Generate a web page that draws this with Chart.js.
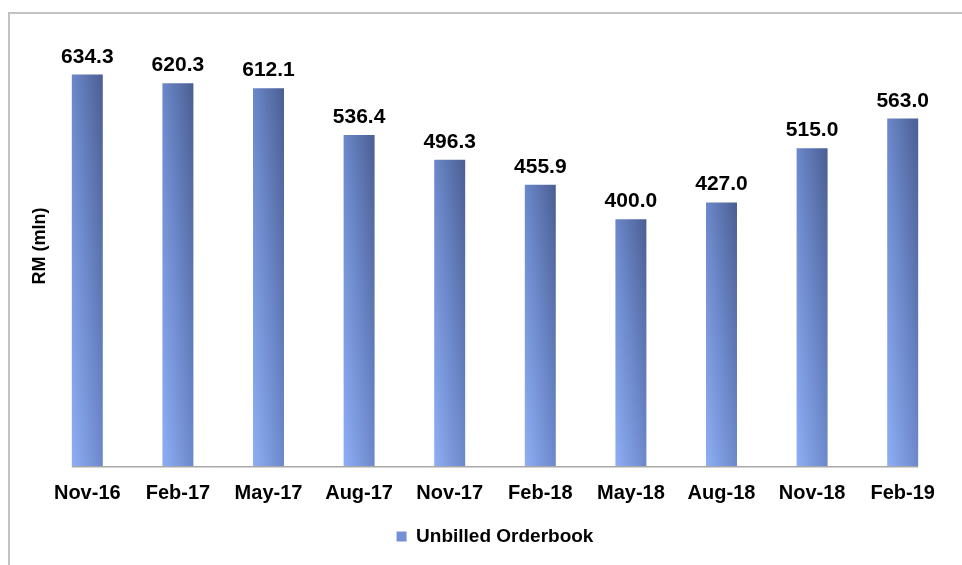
<!DOCTYPE html>
<html>
<head>
<meta charset="utf-8">
<script src="https://cdn.jsdelivr.net/npm/chart.js@4.4.0/dist/chart.umd.min.js"></script>
<style>
  html, body { margin: 0; padding: 0; background: #fff; }
  #wrap { position: relative; width: 962px; height: 565px; overflow: hidden; }
  #frame { position: absolute; left: 8px; top: 12px; width: 1000px; height: 600px;
           border-left: 2px solid #c3c3c3; border-top: 2px solid #c3c3c3; }
  canvas { position: absolute; left: 0; top: 0; }
</style>
</head>
<body>
<div id="wrap">
  <div id="frame"></div>
  <canvas id="myChart" width="962" height="565"></canvas>
</div>
<script>
const quarters = ["Nov-16", "Feb-17", "May-17", "Aug-17", "Nov-17", "Feb-18", "May-18", "Aug-18", "Nov-18", "Feb-19"];
const orderbook = [634.3, 620.3, 612.1, 536.4, 496.3, 455.9, 400.0, 427.0, 515.0, 563.0];
const seriesName = "Unbilled Orderbook";
const yMax = 700;

const FONT = "'Liberation Sans', Arial, sans-serif";
const BAR_PCT = 0.342;

// gradient: light at bottom-left, dark at top-right (like the Excel fill)
function barFill(c) {
  const chart = c.chart;
  const area = chart.chartArea;
  if (!area || c.type !== "data") return "#7590d6";
  const xs = chart.scales.x, ys = chart.scales.y;
  const w = (area.width / quarters.length) * BAR_PCT;
  const cx = xs.getPixelForValue(c.dataIndex);
  const top = ys.getPixelForValue(orderbook[c.dataIndex]);
  const base = ys.getPixelForValue(0);
  const h = Math.max(base - top, 1);
  const L = cx - w / 2;
  const k = 2 / (1 / (w * w) + 1 / (h * h));
  const g = chart.ctx.createLinearGradient(L, base, L + k / w, base - k / h);
  g.addColorStop(0, "#8eaef4");
  g.addColorStop(0.5, "#6c88ca");
  g.addColorStop(1, "#4a5e92");
  return g;
}

const extras = {
  id: "extras",
  afterDatasetsDraw(chart) {
    const ctx = chart.ctx;
    const area = chart.chartArea;
    const meta = chart.getDatasetMeta(0);
    ctx.save();
    // axis line from first bar to last bar
    const first = meta.data[0], last = meta.data[meta.data.length - 1];
    ctx.strokeStyle = "#a8a8a8";
    ctx.lineWidth = 1.5;
    ctx.beginPath();
    ctx.moveTo(first.x - first.width / 2, area.bottom + 0.75);
    ctx.lineTo(last.x + last.width / 2, area.bottom + 0.75);
    ctx.stroke();
    // value labels
    ctx.fillStyle = "#000";
    ctx.font = "bold 21px " + FONT;
    ctx.textAlign = "center";
    ctx.textBaseline = "alphabetic";
    meta.data.forEach((bar, i) => {
      ctx.fillText(orderbook[i].toFixed(1), bar.x, bar.y - 12);
    });
    // y axis title
    ctx.font = "bold 18px " + FONT;
    ctx.translate(40, (area.top + area.bottom) / 2 - 4);
    ctx.rotate(-Math.PI / 2);
    ctx.textBaseline = "middle";
    ctx.fillText("RM (mln)", 0, 0);
    ctx.restore();
  }
};

const ctx = document.getElementById("myChart").getContext("2d");
const myChart = new Chart(ctx, {
  type: "bar",
  data: {
    labels: quarters,
    datasets: [
      {
        label: seriesName,
        data: orderbook,
        backgroundColor: barFill,
        borderWidth: 0,
        categoryPercentage: 1,
        barPercentage: BAR_PCT,
      },
    ],
  },
  options: {
    responsive: false,
    animation: false,
    devicePixelRatio: 1,
    layout: { padding: { left: 42, right: 14, top: 34, bottom: 9 } },
    scales: {
      x: {
        grid: { display: false },
        border: { display: false },
        ticks: {
          color: "#000",
          font: { family: FONT, size: 20, weight: "bold" },
          padding: 7,
          maxRotation: 0,
          autoSkip: false,
        },
      },
      y: {
        display: false,
        min: 0,
        max: yMax,
      },
    },
    plugins: {
      tooltip: { enabled: false },
      legend: {
        position: "bottom",
        labels: {
          color: "#000",
          font: { family: FONT, size: 19, weight: "bold" },
          boxWidth: 10,
          boxHeight: 10,
          padding: 15,
          generateLabels: () => [
            { text: seriesName, fillStyle: "#7590d6", strokeStyle: "#7590d6", lineWidth: 0, hidden: false, datasetIndex: 0 },
          ],
        },
      },
    },
  },
  plugins: [extras],
});
</script>
</body>
</html>
